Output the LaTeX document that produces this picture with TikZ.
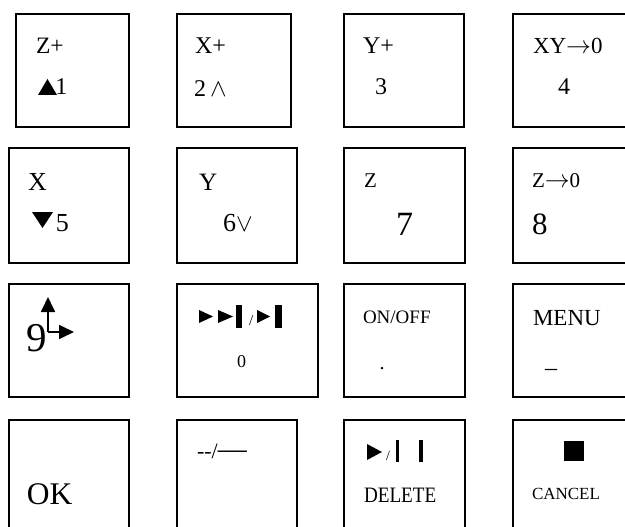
\documentclass[tikz,border=0pt]{standalone}
\usepackage{fontspec}
\usepackage{graphicx}
\setmainfont{Liberation Serif}
\usetikzlibrary{arrows.meta}
\newcommand\myfs[1]{\fontsize{#1}{#1}\selectfont}
\tikzset{
  keybox/.style={draw, line width=1.6pt, rectangle, inner sep=0pt, anchor=north west},
  lbl/.style={anchor=base west, inner sep=0pt, outer sep=0pt},
  axarrow/.style={line width=1.8pt, -{Triangle[length=15pt,width=14pt]}}
}
\begin{document}
\begin{tikzpicture}[x=1pt,y=-1pt]
\path[use as bounding box, clip] (0,0) rectangle (625,527);
% boxes
\node[keybox, minimum width=113pt, minimum height=113pt] (k11) at (15,13) {};
\node[keybox, minimum width=114pt, minimum height=113pt] (k12) at (176,13) {};
\node[keybox, minimum width=120pt, minimum height=113pt] (k13) at (343,13) {};
\node[keybox, minimum width=150pt, minimum height=113pt] (k14) at (512,13) {};
\node[keybox, minimum width=120pt, minimum height=115pt] (k21) at (8,147) {};
\node[keybox, minimum width=120pt, minimum height=115pt] (k22) at (176,147) {};
\node[keybox, minimum width=121pt, minimum height=115pt] (k23) at (343,147) {};
\node[keybox, minimum width=150pt, minimum height=115pt] (k24) at (512,147) {};
\node[keybox, minimum width=120pt, minimum height=113pt] (k31) at (8,283) {};
\node[keybox, minimum width=141pt, minimum height=113pt] (k32) at (176,283) {};
\node[keybox, minimum width=121pt, minimum height=113pt] (k33) at (343,283) {};
\node[keybox, minimum width=150pt, minimum height=113pt] (k34) at (512,283) {};
\node[keybox, minimum width=120pt, minimum height=150pt] (k41) at (8,419) {};
\node[keybox, minimum width=120pt, minimum height=150pt] (k42) at (176,419) {};
\node[keybox, minimum width=121pt, minimum height=150pt] (k43) at (343,419) {};
\node[keybox, minimum width=150pt, minimum height=150pt] (k44) at (512,419) {};
% row 1
\node[lbl] (t11a) at (36,54) {\myfs{23.5}Z+};
\fill (38,95) -- (57,95) -- (47.5,79) -- cycle;
\node[lbl] (t11b) at (55.5,95) {\myfs{24}1};
\node[lbl] (t12a) at (195,54) {\myfs{24}X+};
\node[lbl] (t12b) at (194,97) {\myfs{24}2\,{\myfs{31}$\wedge$}};
\node[lbl] (t13a) at (363,54) {\myfs{24}Y+};
\node[lbl] (t13b) at (375,95) {\myfs{24}3};
\node[lbl] (t14a) at (533,54) {\myfs{23}XY{\myfs{25}$\rightarrow$}0};
\node[lbl] (t14b) at (558,95) {\myfs{24}4};
% row 2
\node[lbl] (t21a) at (28,190) {\myfs{26}X};
\fill (32,212) -- (53,212) -- (42.5,228) -- cycle;
\node[lbl] (t21b) at (56,231) {\myfs{26}5};
\node[lbl] (t22a) at (199,190) {\myfs{25}Y};
\node[lbl] (t22b) at (223,231) {\myfs{26}6{\myfs{26}$\vee$}};
\node[lbl] (t23a) at (364,187) {\myfs{21}Z};
\node[lbl] (t23b) at (396,235) {\myfs{34}7};
\node[lbl] (t24a) at (532,187) {\myfs{21}Z{\myfs{25}$\rightarrow$}0};
\node[lbl] (t24b) at (532,234) {\myfs{31}8};
% row 3
\node[lbl] (t31a) at (27,351) {\myfs{41}9};
\coordinate (c9) at (48,332);
\coordinate (c9up) at (48,297);
\coordinate (c9rt) at (74,332);
\draw[axarrow] (c9) -- (c9up);
\draw[axarrow] (c9) -- (c9rt);
\fill (199,310) -- (213,316.5) -- (199,323) -- cycle;
\fill (218,310) -- (233,316.5) -- (218,323) -- cycle;
\fill (236,305) rectangle (242,328);
\node[lbl] (t32s) at (249,325) {\myfs{15}/};
\fill (257,310) -- (270,316.5) -- (257,323) -- cycle;
\fill (275,305) rectangle (282,328);
\node[lbl] (t32b) at (237,367) {\myfs{18}0};
\node[lbl] (t33a) at (363,323) {\myfs{19}ON/OFF};
\node[lbl] (t33b) at (379.5,369) {\myfs{20}.};
\node[lbl] (t34a) at (533,325) {\myfs{23}MENU};
\node[lbl] (t34b) at (545,367) {\myfs{24}\_};
% row 4
\node[lbl] (t41a) at (27,504) {\myfs{31.5}OK};
\node[lbl] (t42a) at (197,458) {\myfs{22}-{}-/{\myfs{29}—}};
\fill (367,444) -- (382,452) -- (367,460) -- cycle;
\node[lbl] (t43s) at (386,460) {\myfs{14}/};
\fill (396,440) rectangle (399,462);
\fill (419,440) rectangle (423,462);
\node[lbl] (t43a) at (364,502) {\scalebox{0.87}[1]{\myfs{22}DELETE}};
\fill (564,441) rectangle (584,461);
\node[lbl] (t44a) at (532,499) {\myfs{17}CANCEL};
\end{tikzpicture}
\end{document}
